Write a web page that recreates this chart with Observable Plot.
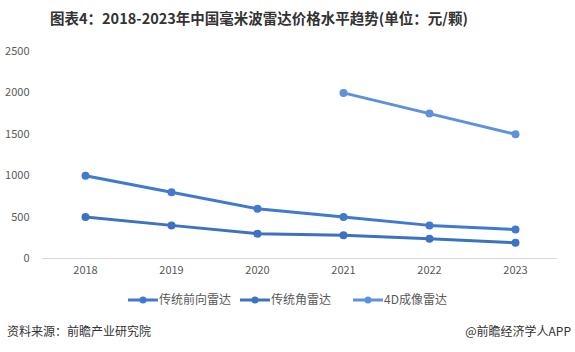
<!DOCTYPE html>
<html><head><meta charset="utf-8">
<script src="https://cdn.jsdelivr.net/npm/d3@7"></script>
<script src="https://cdn.jsdelivr.net/npm/@observablehq/plot@0.6"></script>
<style>
body{margin:0;width:575px;height:352px;background:#fff;font-family:"Noto Sans CJK SC","Noto Sans",sans-serif;position:relative;overflow:hidden}
#title{position:absolute;left:50px;top:7px;white-space:nowrap;font-size:14.5px;font-weight:bold;color:#333}
#chart{position:absolute;left:0;top:36px}
#legend{position:absolute;left:0;top:290px;width:575px;height:20px}
.src{position:absolute;top:322px;font-size:12px;color:#333}
</style></head><body>
<div id="title">图表4：2018-2023年中国毫米波雷达价格水平趋势(单位：元/颗)</div>
<div id="chart"></div>
<div id="legend"></div>
<div class="src" style="left:7px">资料来源：前瞻产业研究院</div>
<div class="src" style="right:4px">@前瞻经济学人APP</div>
<script>
const years = ["2018","2019","2020","2021","2022","2023"];
const seriesNames = ["传统前向雷达","传统角雷达","4D成像雷达"];
const frontRadar = [1000, 800, 600, 500, 400, 350];
const cornerRadar = [500, 400, 300, 280, 240, 190];
const imagingRadar = [null, null, null, 2000, 1750, 1500];
const yTicks = [0, 500, 1000, 1500, 2000, 2500];
const colors = ["#4279d0", "#3d72c2", "#5e91dc"];

const all = [frontRadar, cornerRadar, imagingRadar];
const data = [];
all.forEach((arr, si) => arr.forEach((v, i) => { if (v != null) data.push({year: years[i], value: v, series: seriesNames[si]}); }));

const chart = Plot.plot({
  width: 575, height: 247,
  marginLeft: 42, marginRight: 18, marginTop: 15, marginBottom: 25,
  style: {fontFamily: '"Noto Sans CJK SC","Noto Sans",sans-serif', fontSize: "11px", color: "#595959"},
  x: {type: "point", domain: years, range: [84, 515], padding: 0, label: null, tickSize: 0, tickPadding: 8},
  y: {domain: [0, 2500], ticks: yTicks, tickFormat: d3.format("d"), label: null, tickSize: 0, tickPadding: 13},
  color: {domain: seriesNames, range: colors},
  marks: [
    Plot.ruleY([0], {stroke: "#d9d9d9", strokeWidth: 1}),
    Plot.line(data, {x: "year", y: "value", z: "series", stroke: "series", strokeWidth: 3}),
    Plot.dot(data, {x: "year", y: "value", fill: "series", r: 4})
  ]
});
document.getElementById("chart").appendChild(chart);

// legend
const lg = d3.select("#legend").append("svg").attr("width", 575).attr("height", 20)
  .style("font-family", '"Noto Sans CJK SC","Noto Sans",sans-serif');
const starts = [128, 240, 353];
seriesNames.forEach((n, i) => {
  const g = lg.append("g").attr("transform", `translate(${starts[i]},10)`);
  g.append("line").attr("x1", 0).attr("x2", 30).attr("y1", 0).attr("y2", 0).attr("stroke", colors[i]).attr("stroke-width", 3);
  g.append("circle").attr("cx", 15).attr("cy", 0).attr("r", 3.5).attr("fill", colors[i]);
  g.append("text").attr("x", 31).attr("y", 0).attr("dy", "0.35em").attr("font-size", 12).attr("fill", "#595959").text(n);
});
</script>
</body></html>
